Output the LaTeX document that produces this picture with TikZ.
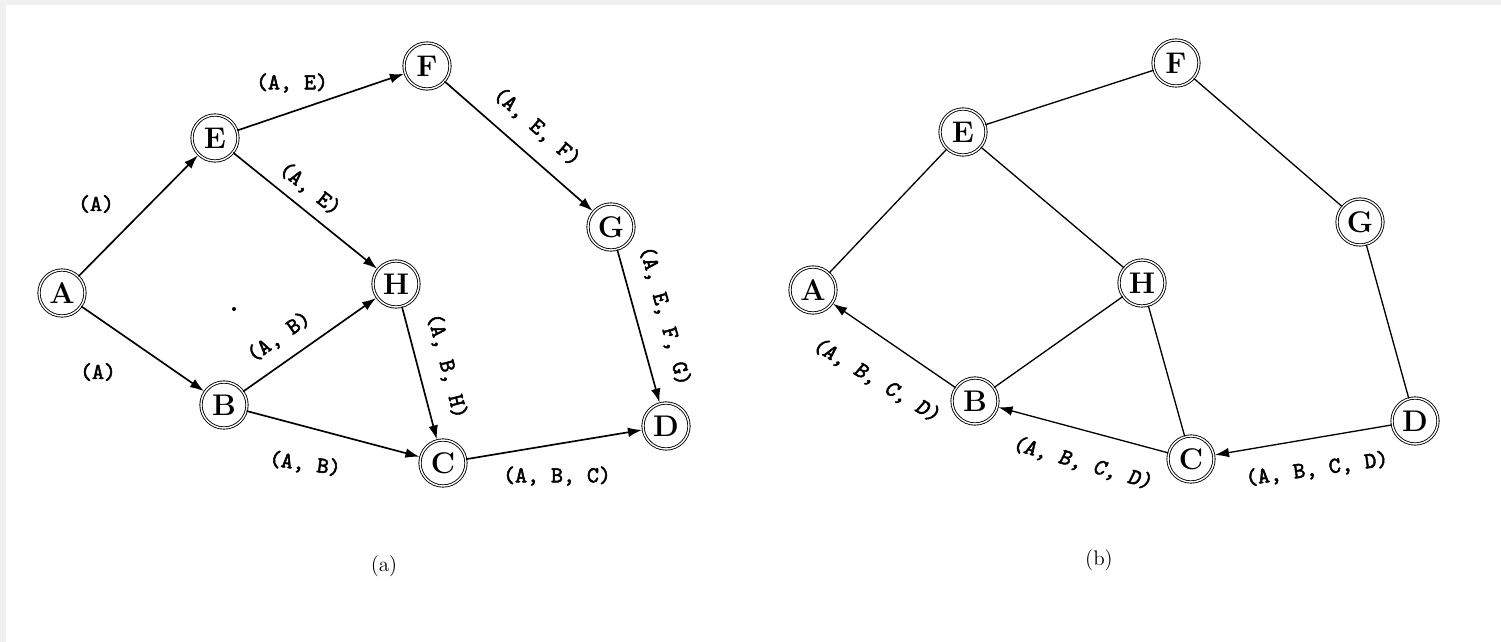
\documentclass[tikz,border=0pt]{standalone}
\usepackage{fontspec}
\newfontfamily\lblfont{lmmono10-regular.otf}[FakeBold=2.2]
\newfontfamily\lblslfont{lmmono10-regular.otf}[FakeBold=2.2, FakeSlant=0.18]
\usetikzlibrary{arrows.meta}
\begin{document}
\begin{tikzpicture}[x=0.02cm,y=-0.02cm,
  vtx/.style={circle, draw, line width=0.5pt, double, double distance=0.8pt,
    minimum size=0.92cm, inner sep=0pt, font=\fontsize{17}{17}\selectfont\bfseries},
  diredge/.style={line width=0.95pt, -{Latex[length=8pt,width=5.5pt]}, shorten >=0.5pt},
  plainedge/.style={line width=0.75pt},
  lbl/.style={font=\fontsize{13}{13}\selectfont\lblfont, inner sep=0pt},
  slbl/.style={font=\fontsize{13}{13}\selectfont\lblslfont, inner sep=0pt},
  captext/.style={font=\fontsize{12}{14}\selectfont, inner sep=0pt}
]
\useasboundingbox (0,0) rectangle (1501,642);
\fill[black!6] (0,0) rectangle (1501,5);
\fill[black!6] (0,0) rectangle (6,642);

% ---------- (a) ----------
\node[vtx] (A1) at (62,293) {A};
\node[vtx] (E1) at (215,138) {E};
\node[vtx] (F1) at (427,66) {F};
\node[vtx] (H1) at (396,284) {H};
\node[vtx] (G1) at (611,227) {G};
\node[vtx] (B1) at (224,405) {B};
\node[vtx] (C1) at (443,463) {C};
\node[vtx] (D1) at (666,426) {D};

\draw[diredge] (A1) -- (E1);
\draw[diredge] (A1) -- (B1);
\draw[diredge] (E1) -- (F1);
\draw[diredge] (E1) -- (H1);
\draw[diredge] (F1) -- (G1);
\draw[diredge] (B1) -- (H1);
\draw[diredge] (B1) -- (C1);
\draw[diredge] (H1) -- (C1);
\draw[diredge] (G1) -- (D1);
\draw[diredge] (C1) -- (D1);

\node[lbl] (la1) at (96,204) {(A)};
\node[lbl] (la2) at (98,372) {(A)};
\node[lbl] (la3) at (292,83) {(A, E)};
\node[lbl, rotate=-38.5] (la4) at (310,189) {(A, E)};
\node[lbl, rotate=-41] (la5) at (537,127) {(A, E, F)};
\node[lbl, rotate=35] (la6) at (279,337) {(A, B)};
\node[lbl, rotate=-75.5] (la7) at (447,366) {(A, B, H)};
\node[lbl, rotate=-74.5] (la8) at (665,316) {(A, E, F, G)};
\node[lbl, rotate=-8] (la9) at (305,464) {(A, B)};
\node[lbl] (la10) at (557,476) {(A, B, C)};
\fill (234,309) circle[radius=2];
\node[captext] (capa) at (384,566) {(a)};

% ---------- (b) ----------
\node[vtx] (A2) at (813,290) {A};
\node[vtx] (E2) at (963,132) {E};
\node[vtx] (F2) at (1176,63) {F};
\node[vtx] (G2) at (1360,222) {G};
\node[vtx] (H2) at (1142,283) {H};
\node[vtx] (B2) at (975,401) {B};
\node[vtx] (C2) at (1191,459) {C};
\node[vtx] (D2) at (1415,421) {D};

\draw[plainedge] (A2) -- (E2);
\draw[plainedge] (E2) -- (F2);
\draw[plainedge] (E2) -- (H2);
\draw[plainedge] (F2) -- (G2);
\draw[plainedge] (G2) -- (D2);
\draw[plainedge] (H2) -- (B2);
\draw[plainedge] (H2) -- (C2);
\draw[diredge, line width=0.75pt] (B2) -- (A2);
\draw[diredge, line width=0.75pt] (C2) -- (B2);
\draw[diredge, line width=0.75pt] (D2) -- (C2);

\node[slbl, rotate=-31] (lb1) at (876,380) {(A, B, C, D)};
\node[slbl, rotate=-16] (lb2) at (1082,463) {(A, B, C, D)};
\node[lbl, rotate=8] (lb3) at (1317,469) {(A, B, C, D)};
\node[captext] (capb) at (1099,560) {(b)};
\end{tikzpicture}
\end{document}
